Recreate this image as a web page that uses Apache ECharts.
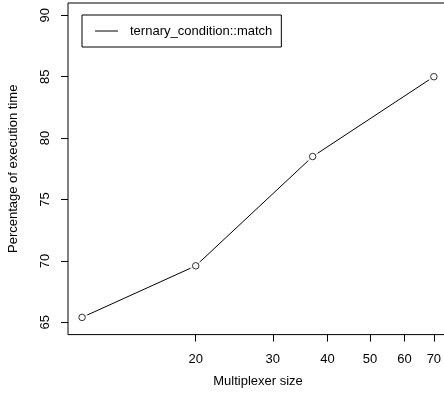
<!DOCTYPE html>
<html>
<head>
<meta charset="utf-8">
<script src="https://cdn.jsdelivr.net/npm/echarts@6/dist/echarts.min.js"></script>
<style>html,body{margin:0;padding:0;background:#fff}#c{width:444px;height:400px}</style>
</head>
<body>
<div id="c"></div>
<script>
const seriesName = 'ternary_condition::match';
const multiplexerSize = [11, 20, 37, 70];
const percentTime = [65.4, 69.6, 78.5, 85.0];
const xTickValues = [20, 30, 40, 50, 60, 70];
const yTickValues = [65, 70, 75, 80, 85, 90];

const pts = multiplexerSize.map((x, i) => [x, percentTime[i]]);
const font = "'Liberation Sans', Arial, Helvetica, sans-serif";

const chart = echarts.init(document.getElementById('c'), null, {renderer: 'canvas'});
chart.setOption({
  animation: false,
  backgroundColor: '#fff',
  textStyle: {fontFamily: font, color: '#000'},
  grid: {left: 68, top: 3, width: 380, height: 331.6, outerBoundsMode: 'none', containLabel: false,
         show: true, borderColor: '#000', borderWidth: 1, backgroundColor: 'transparent'},
  legend: {
    left: 82, top: 15,
    data: [{name: seriesName, icon: 'rect'}],
    itemWidth: 23, itemHeight: 1,
    itemStyle: {color: '#000', borderWidth: 0},
    padding: [8, 9, 8, 13],
    borderColor: '#000', borderWidth: 1, borderRadius: 0,
    textStyle: {fontFamily: font, fontSize: 13, color: '#000', lineHeight: 16, padding: [0, 0, 0, 7]},
    selectedMode: false
  },
  xAxis: {
    type: 'log', logBase: 10, min: 10.215, max: 75.4,
    name: 'Multiplexer size', nameLocation: 'middle', nameGap: 40,
    nameTextStyle: {fontFamily: font, fontSize: 13, color: '#000'},
    axisLine: {show: false},
    axisTick: {show: true, length: 7, inside: false, lineStyle: {color: '#000'}, customValues: xTickValues},
    axisLabel: {fontFamily: font, fontSize: 13, color: '#000', margin: 18, customValues: xTickValues, showMinLabel: true, showMaxLabel: true},
    splitLine: {show: false}, minorTick: {show: false}
  },
  yAxis: {
    type: 'value', min: 64, max: 91,
    name: 'Percentage of execution time', nameLocation: 'middle', nameGap: 48,
    nameTextStyle: {fontFamily: font, fontSize: 13, color: '#000'},
    axisLine: {show: false},
    axisTick: {show: true, length: 7, lineStyle: {color: '#000'}, customValues: yTickValues},
    axisLabel: {fontFamily: font, fontSize: 13, color: '#000', rotate: 90, margin: 16, customValues: yTickValues},
    splitLine: {show: false}
  },
  series: [
    {name: seriesName, type: 'line', data: pts, showSymbol: false, symbol: 'none', lineStyle: {color: '#000', width: 1}, itemStyle: {color: '#000'}, z: 2},
    {name: 'gap', type: 'scatter', data: pts, symbol: 'circle', symbolSize: 12, itemStyle: {color: '#fff'}, z: 3, silent: true},
    {name: 'pts', type: 'scatter', data: pts, symbol: 'circle', symbolSize: 6.5, itemStyle: {color: '#fff', borderColor: '#000', borderWidth: 1}, z: 4, silent: true}
  ]
});
</script>
</body>
</html>
